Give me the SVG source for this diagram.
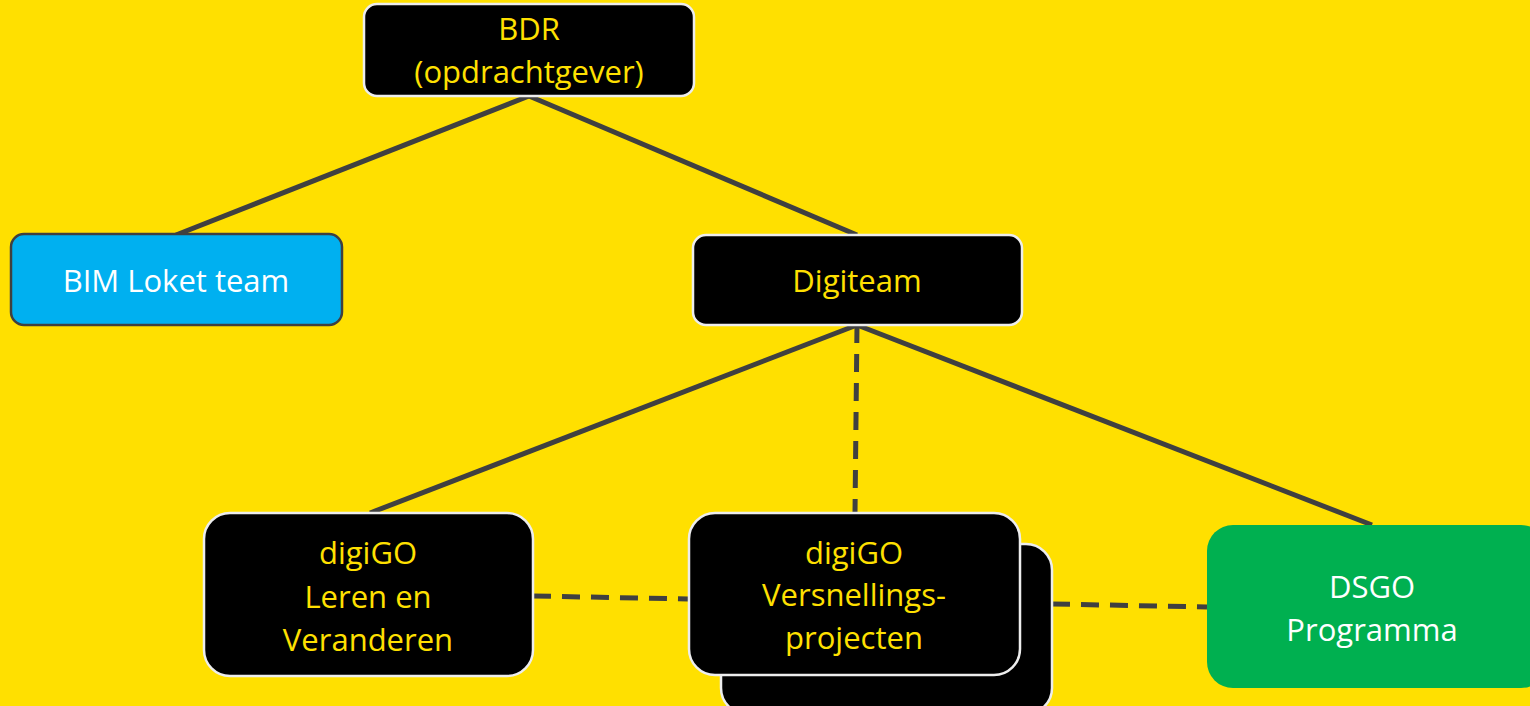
<svg xmlns="http://www.w3.org/2000/svg" width="1530" height="706" viewBox="0 0 1530 706">
<style>
.bg{fill:#FFE000}
.blk{fill:#000;stroke:#EDEDED;stroke-width:2.5}
.t{font-family:"Open Sans","Noto Sans",sans-serif;font-size:31px;text-anchor:middle}
.ty{fill:#FFE000}
.tw{fill:#fff}
.c{stroke:#404040;stroke-width:5;fill:none}
.d{stroke-dasharray:18,11}
</style>
<rect class="bg" x="0" y="0" width="1530" height="706"/>
<g id="connectors">
<line class="c" x1="529" y1="96" x2="176" y2="235"/>
<line class="c" x1="529" y1="96" x2="857" y2="235"/>
<line class="c" x1="857" y1="325" x2="370" y2="513"/>
<line class="c" x1="857" y1="325" x2="1372" y2="525"/>
<line class="c d" x1="857" y1="325" x2="855" y2="513"/>
<line class="c d" x1="533" y1="596" x2="688" y2="599"/>
<line class="c d" x1="1052" y1="604" x2="1207" y2="607"/>
</g>
<g id="bdr">
<rect class="blk" x="364" y="4" width="330" height="92" rx="13"/>
<text class="t ty" x="529" y="40">BDR</text>
<text class="t ty" x="529" y="83">(opdrachtgever)</text>
</g>
<g id="bim-loket">
<rect x="11" y="234" width="331" height="91" rx="13" fill="#00B0F0" stroke="#404040" stroke-width="2.5"/>
<text class="t tw" x="176" y="292">BIM Loket team</text>
</g>
<g id="digiteam">
<rect class="blk" x="693" y="235" width="329" height="90" rx="13"/>
<text class="t ty" x="857" y="292">Digiteam</text>
</g>
<g id="leren">
<rect class="blk" x="204" y="513" width="329" height="163" rx="26"/>
<text class="t ty" x="368" y="564">digiGO</text>
<text class="t ty" x="368" y="608">Leren en</text>
<text class="t ty" x="368" y="651">Veranderen</text>
</g>
<g id="versnelling">
<rect class="blk" x="721" y="544" width="331" height="170" rx="26"/>
<rect class="blk" x="689" y="513" width="331" height="162" rx="26"/>
<text class="t ty" x="854" y="564">digiGO</text>
<text class="t ty" x="854" y="606">Versnellings-</text>
<text class="t ty" x="854" y="649">projecten</text>
</g>
<g id="dsgo">
<rect x="1207" y="525" width="340" height="163" rx="26" fill="#00B050"/>
<text class="t tw" x="1372" y="598">DSGO</text>
<text class="t tw" x="1372" y="641">Programma</text>
</g>
</svg>
